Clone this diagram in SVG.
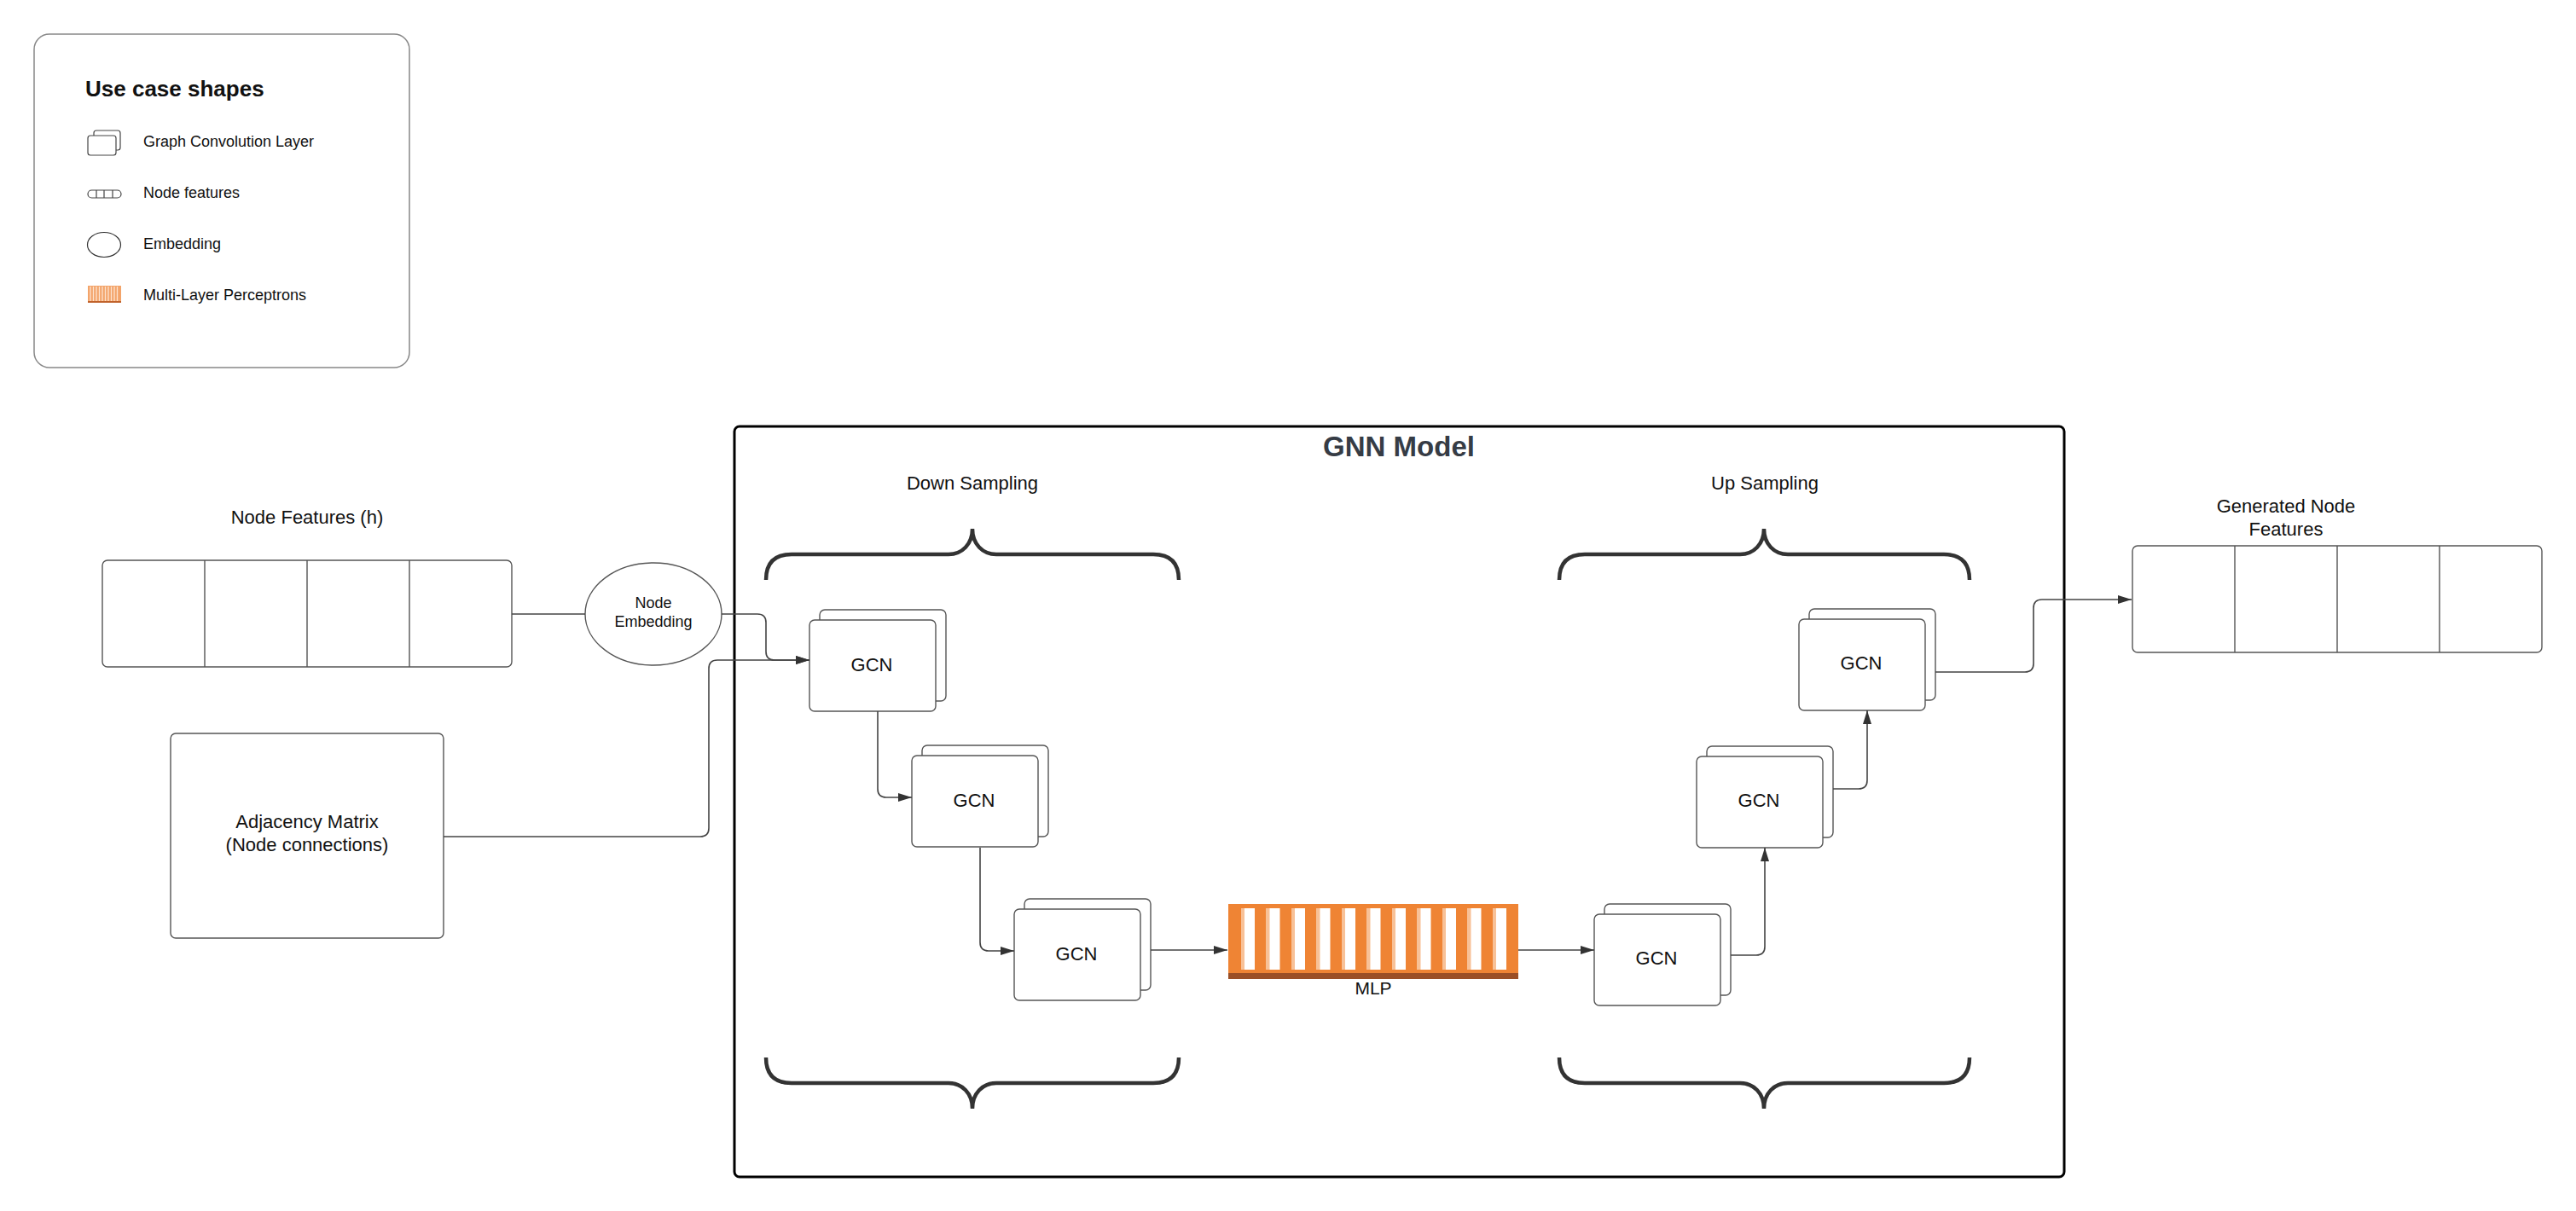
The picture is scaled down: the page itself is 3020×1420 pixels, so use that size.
<svg xmlns="http://www.w3.org/2000/svg" width="3020" height="1420" viewBox="0 0 3020 1420">
<defs>
<style>
text{font-family:"Liberation Sans",Arial,sans-serif;fill:#111}
.lbl{font-size:22px;text-anchor:middle}
.leg{font-size:18px}
.box{fill:#fff;stroke:#555;stroke-width:1.4}
.con{fill:none;stroke:#444;stroke-width:1.6}
.brace{fill:none;stroke:#333;stroke-width:4.5}
.slot{fill:#fff}
.slotl{fill:#f8c197}
</style>
<marker id="arr" markerUnits="userSpaceOnUse" markerWidth="16" markerHeight="10" refX="16" refY="5" orient="auto">
<path d="M0,0 L16,5 L0,10 z" fill="#333"/>
</marker>
<g id="gcnshape">
<rect x="12" y="-12" width="148" height="107" rx="6" class="box"/>
<rect x="0" y="0" width="148" height="107" rx="6" class="box"/>
</g>
<g id="mlpslot">
<rect x="0" y="0" width="16" height="72" class="slot"/>
<rect x="0" y="0" width="4" height="72" class="slotl"/>
</g>
</defs>
<rect width="3020" height="1420" fill="#fff"/>

<g id="legend">
<rect x="40" y="40" width="440" height="391" rx="18" fill="#fff" stroke="#888" stroke-width="1.5"/>
<text x="100" y="113" style="font-size:26px;font-weight:bold">Use case shapes</text>
<rect x="110" y="153" width="31" height="23" rx="3" fill="#fff" stroke="#444" stroke-width="1.2"/>
<rect x="103" y="159" width="33" height="23" rx="3" fill="#fff" stroke="#444" stroke-width="1.2"/>
<text x="168" y="172" class="leg">Graph Convolution Layer</text>
<rect x="103" y="223" width="39" height="9" rx="4.5" fill="#fff" stroke="#444" stroke-width="1.2"/>
<path d="M113,223 V232 M122,223 V232 M132,223 V232" stroke="#444" stroke-width="1.2"/>
<text x="168" y="232" class="leg">Node features</text>
<ellipse cx="122" cy="287" rx="19.5" ry="14.5" fill="#fff" stroke="#333" stroke-width="1.2"/>
<text x="168" y="292" class="leg">Embedding</text>
<rect x="103" y="335" width="39" height="20" fill="#f3a46a"/>
<path d="M106,336 V353 M109.5,336 V353 M113,336 V353 M116.5,336 V353 M120,336 V353 M123.5,336 V353 M127,336 V353 M130.5,336 V353 M134,336 V353 M137.5,336 V353" stroke="#fde3cf" stroke-width="1.3"/>
<rect x="103" y="353" width="39" height="2" fill="#c0622b"/>
<text x="168" y="352" class="leg">Multi-Layer Perceptrons</text>
</g>

<g id="gnn-model">
<rect x="861" y="500" width="1559" height="880" rx="6" fill="none" stroke="#000" stroke-width="3"/>
<text x="1640" y="535" style="font-size:33px;font-weight:bold;text-anchor:middle;fill:#363c45">GNN Model</text>
</g>

<g id="down-sampling">
<text x="1140" y="574" class="lbl">Down Sampling</text>
<path class="brace" d="M898,680 Q898,650 928,650 H1112 C1128,650 1140,638 1140,620 C1140,638 1152,650 1168,650 H1352 Q1382,650 1382,680"/>
<path class="brace" d="M898,1240 Q898,1270 928,1270 H1112 C1128,1270 1140,1282 1140,1300 C1140,1282 1152,1270 1168,1270 H1352 Q1382,1270 1382,1240"/>
</g>

<g id="up-sampling">
<text x="2069" y="574" class="lbl">Up Sampling</text>
<path class="brace" d="M1828,680 Q1828,650 1858,650 H2040 C2056,650 2068,638 2068,620 C2068,638 2080,650 2096,650 H2279 Q2309,650 2309,680"/>
<path class="brace" d="M1828,1240 Q1828,1270 1858,1270 H2040 C2056,1270 2068,1282 2068,1300 C2068,1282 2080,1270 2096,1270 H2279 Q2309,1270 2309,1240"/>
</g>

<g id="node-features">
<text x="360" y="614" class="lbl">Node Features (h)</text>
<rect x="120" y="657" width="480" height="125" rx="6" class="box"/>
<path d="M240,657 V782 M360,657 V782 M480,657 V782" stroke="#555" stroke-width="1.4"/>
</g>

<g id="node-embedding">
<ellipse cx="766" cy="720" rx="80" ry="60" class="box"/>
<text x="766" y="713" text-anchor="middle" style="font-size:18px">Node</text>
<text x="766" y="735" text-anchor="middle" style="font-size:18px">Embedding</text>
</g>

<g id="adjacency-matrix">
<rect x="200" y="860" width="320" height="240" rx="6" class="box"/>
<text x="360" y="971" class="lbl">Adjacency Matrix</text>
<text x="360" y="998" class="lbl">(Node connections)</text>
</g>

<g id="gcn-down-1">
<use href="#gcnshape" x="949" y="727"/>
<text x="1022" y="787" class="lbl">GCN</text>
</g>
<g id="gcn-down-2">
<use href="#gcnshape" x="1069" y="886"/>
<text x="1142" y="946" class="lbl">GCN</text>
</g>
<g id="gcn-down-3">
<use href="#gcnshape" x="1189" y="1066"/>
<text x="1262" y="1126" class="lbl">GCN</text>
</g>

<g id="mlp">
<rect x="1440" y="1060" width="340" height="82" fill="#ef8434"/>
<rect x="1440" y="1141" width="340" height="7" fill="#9b4f26"/>
<use href="#mlpslot" x="1455" y="1065"/>
<use href="#mlpslot" x="1484.5" y="1065"/>
<use href="#mlpslot" x="1514" y="1065"/>
<use href="#mlpslot" x="1543.5" y="1065"/>
<use href="#mlpslot" x="1573" y="1065"/>
<use href="#mlpslot" x="1602.5" y="1065"/>
<use href="#mlpslot" x="1632" y="1065"/>
<use href="#mlpslot" x="1661.5" y="1065"/>
<use href="#mlpslot" x="1691" y="1065"/>
<use href="#mlpslot" x="1720.5" y="1065"/>
<use href="#mlpslot" x="1750" y="1065"/>
<text x="1610" y="1166" text-anchor="middle" style="font-size:21px">MLP</text>
</g>

<g id="gcn-up-1">
<use href="#gcnshape" x="1869" y="1072"/>
<text x="1942" y="1131" class="lbl">GCN</text>
</g>
<g id="gcn-up-2">
<use href="#gcnshape" x="1989" y="887"/>
<text x="2062" y="946" class="lbl">GCN</text>
</g>
<g id="gcn-up-3">
<use href="#gcnshape" x="2109" y="726"/>
<text x="2182" y="785" class="lbl">GCN</text>
</g>

<g id="generated-node-features">
<text x="2680" y="601" class="lbl">Generated Node</text>
<text x="2680" y="628" class="lbl">Features</text>
<rect x="2500" y="640" width="480" height="125" rx="6" class="box"/>
<path d="M2620,640 V765 M2740,640 V765 M2860,640 V765" stroke="#555" stroke-width="1.4"/>
</g>

<g id="connectors">
<path class="con" d="M600,720 H686"/>
<path class="con" d="M846,720 H888 Q898,720 898,730 V764 Q898,774 908,774 H949" marker-end="url(#arr)"/>
<path class="con" d="M520,981 H821 Q831,981 831,971 V784 Q831,774 841,774 H949" marker-end="url(#arr)"/>
<path class="con" d="M1029,834 V925 Q1029,935 1039,935 H1069" marker-end="url(#arr)"/>
<path class="con" d="M1149,994 V1105 Q1149,1115 1159,1115 H1189" marker-end="url(#arr)"/>
<path class="con" d="M1349,1114 H1439" marker-end="url(#arr)"/>
<path class="con" d="M1780,1114 H1869" marker-end="url(#arr)"/>
<path class="con" d="M2029,1120 H2059 Q2069,1120 2069,1110 V994" marker-end="url(#arr)"/>
<path class="con" d="M2149,925 H2179 Q2189,925 2189,915 V833" marker-end="url(#arr)"/>
<path class="con" d="M2269,788 H2374 Q2384,788 2384,778 V713 Q2384,703 2394,703 H2499" marker-end="url(#arr)"/>
</g>
</svg>
